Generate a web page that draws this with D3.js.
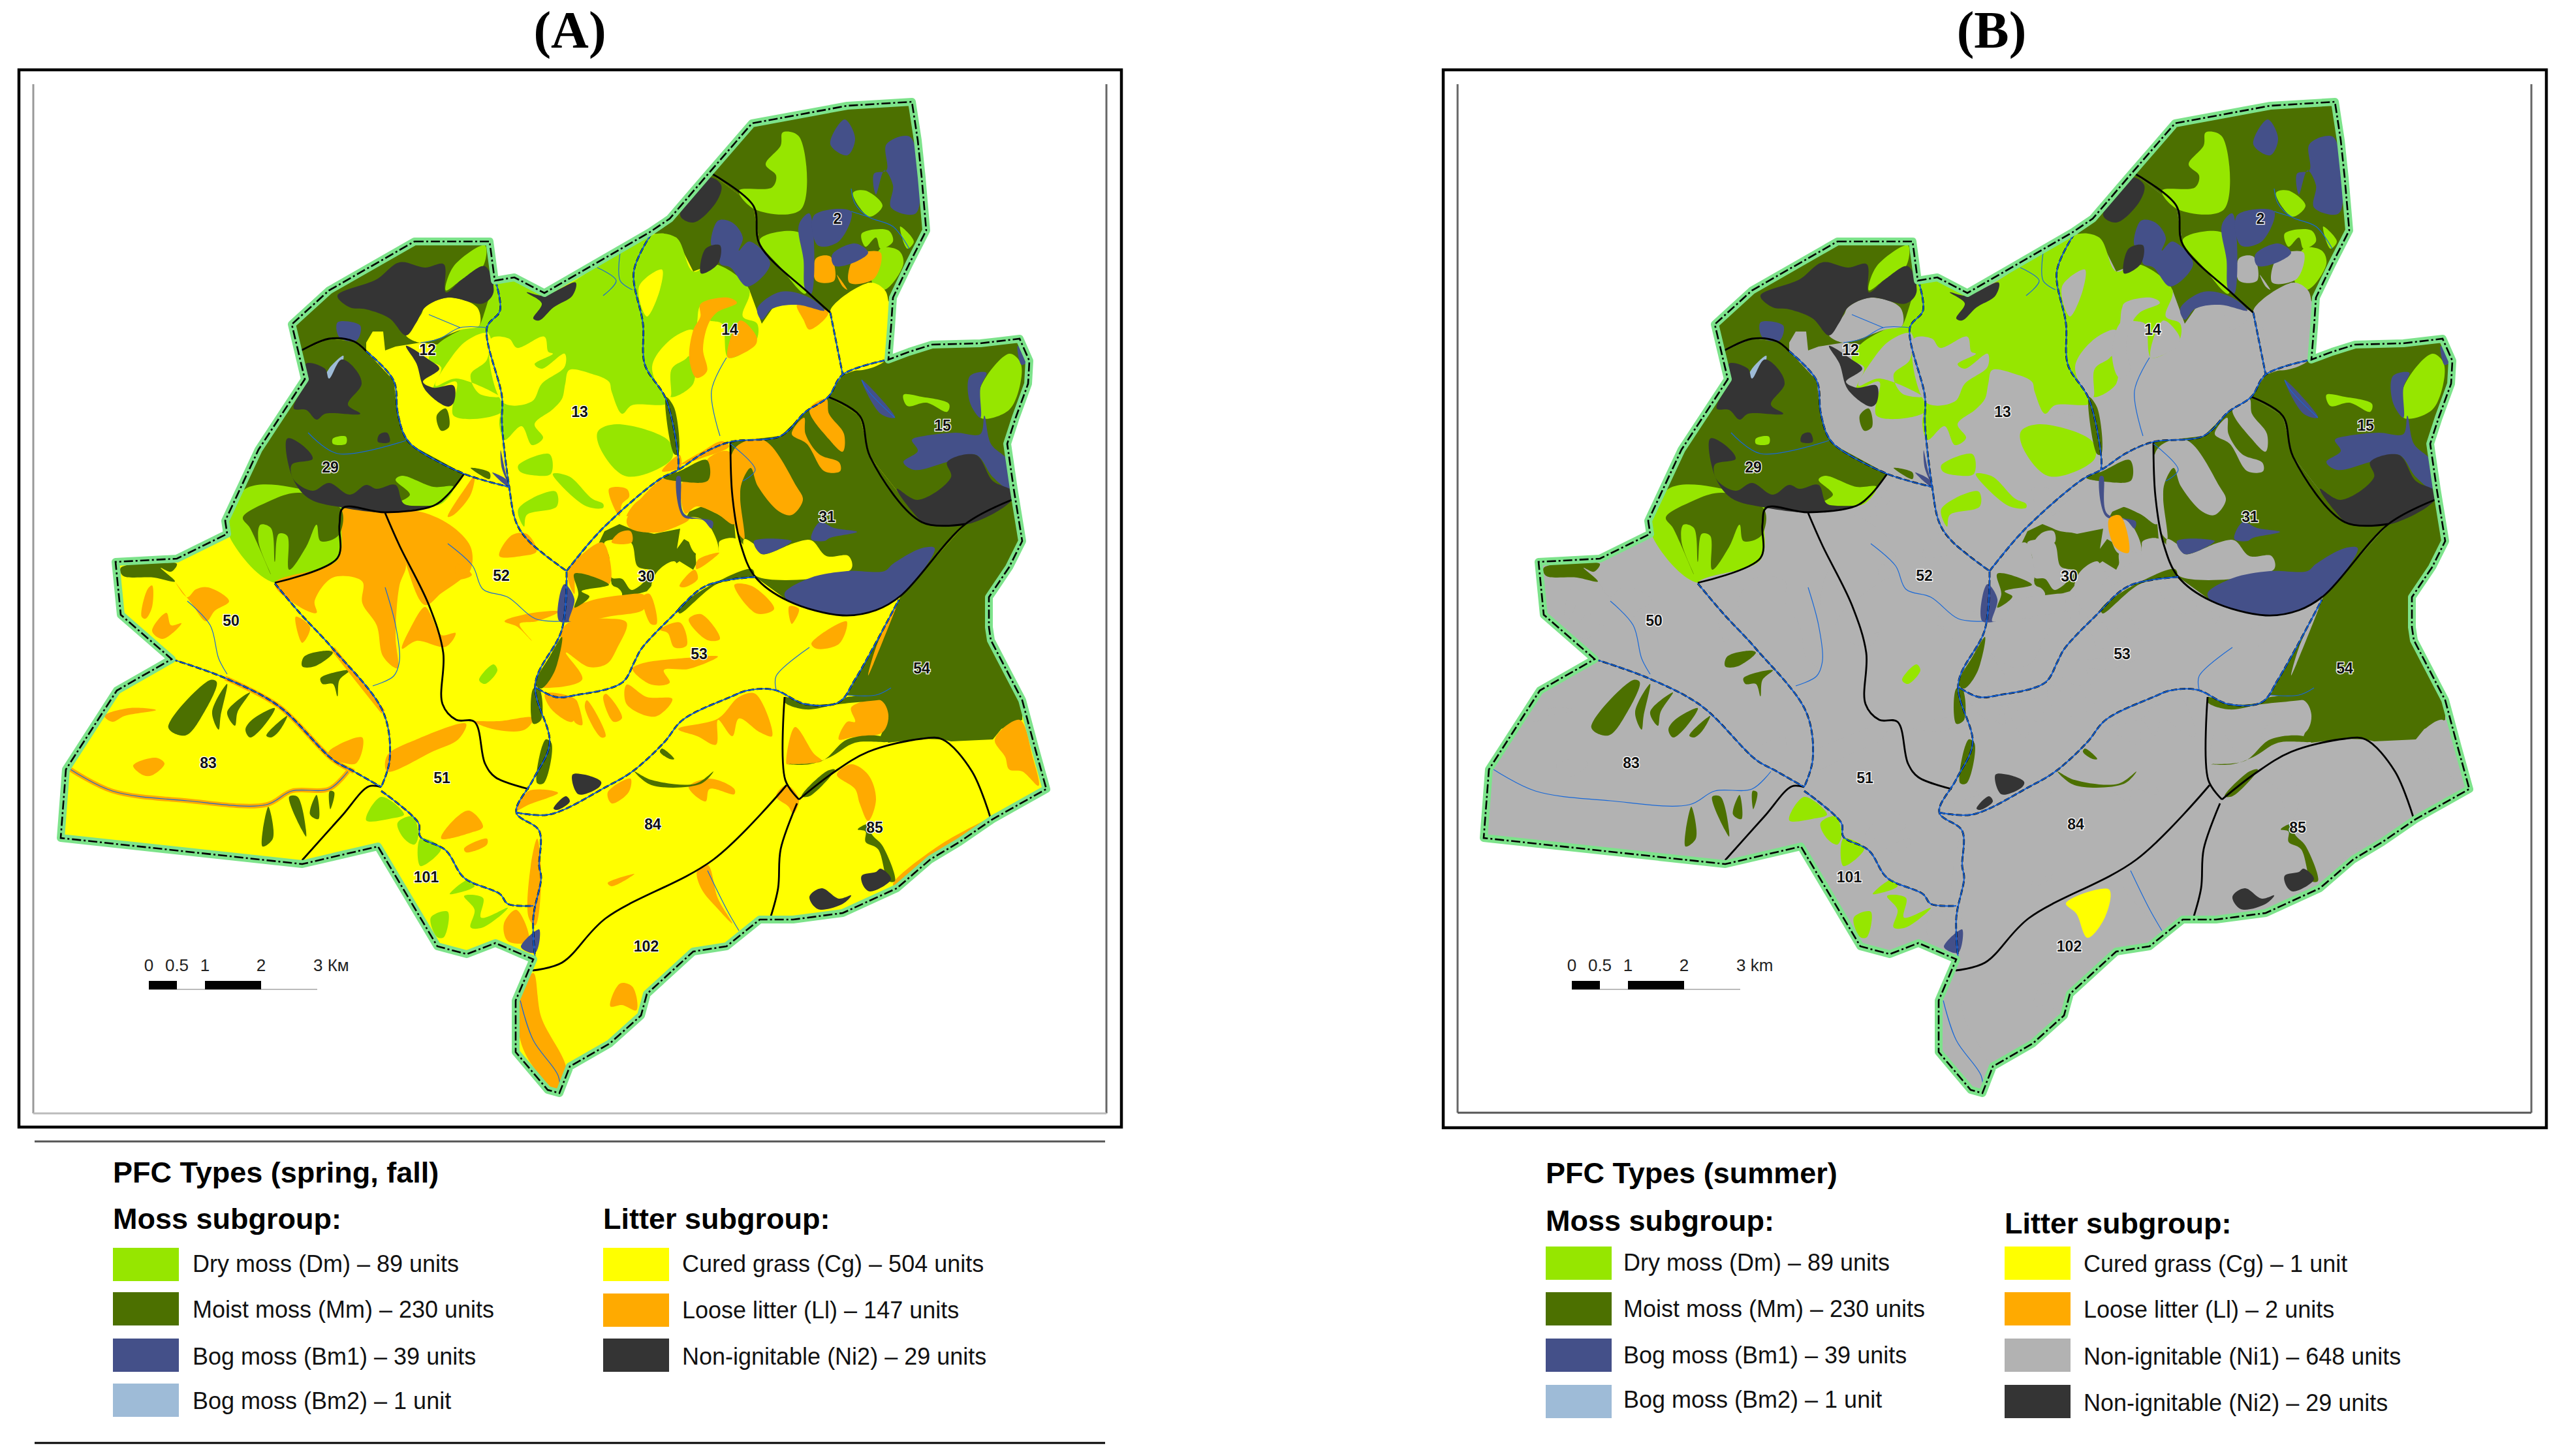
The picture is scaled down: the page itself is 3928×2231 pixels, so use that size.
<!DOCTYPE html>
<html>
<head>
<meta charset="utf-8">
<script src="https://cdn.jsdelivr.net/npm/d3@7"></script>
<style>
  html, body { margin: 0; background: #fff; }
  svg { display: block; }
  text { font-family: "Liberation Sans", Arial, sans-serif; }
</style>
</head>
<body>
<div id="chart"></div>
<script>
// map geometry is in map units, flat x,y lists
const outerBoundary = [635,370, 750,370, 758,430, 788,425, 834,449, 995,356, 1026,335, 1087,264, 1152,189, 1298,162, 1397,156, 1406,215, 1412,272, 1419,353, 1393,404, 1368,456, 1365,502, 1361,551, 1393,539, 1428,528, 1502,526, 1562,519, 1577,553, 1575,588, 1556,640, 1543,680, 1553,749, 1566,829, 1546,869, 1515,915, 1515,961, 1518,981, 1566,1073, 1585,1144, 1603,1209, 1521,1255, 1470,1290, 1425,1317, 1374,1361, 1291,1399, 1215,1409, 1164,1409, 1113,1450, 1062,1458, 991,1523, 982,1556, 934,1599, 873,1634, 857,1675, 839,1670, 790,1612, 790,1533, 817,1470, 759,1445, 715,1462, 670,1450, 579,1297, 463,1324, 93,1284, 101,1179, 179,1058, 263,1010, 185,942, 177,861, 271,856, 348,818, 345,798, 396,689, 467,581, 447,497, 504,445];

const districtLines = [
  [456,540, 504,519, 542,523, 561,538],
  [711,726, 686,758, 664,775, 590,785, 526,778, 520,804, 517,855, 421,893],
  [1087,264, 1154,315, 1164,375, 1240,450, 1272,479],
  [1119,677, 1122,760, 1135,835, 1157,884, 1208,921, 1291,943, 1342,935, 1381,912, 1479,803, 1550,766],
  [1269,608, 1317,637, 1333,700, 1412,800, 1479,803],
  [590,786, 612,836, 657,927, 679,1000, 678,1079, 699,1103, 727,1106, 743,1170, 759,1191, 810,1209],
  [463,1318, 523,1251, 565,1205, 584,1206],
  [1202,1068, 1203,1195, 1224,1225],
  [1205,1203, 1093,1317, 928,1407, 861,1475, 816,1487],
  [1221,1231, 1196,1301, 1192,1361, 1180,1407],
  [1224,1225, 1275,1185, 1330,1152, 1412,1132, 1444,1133, 1489,1182, 1518,1255]
];
const riverLines = [
  [561,538, 603,583, 609,631, 619,666, 632,683, 711,726, 780,746],
  [759,430, 766,476, 746,502, 769,608, 769,649, 780,746, 791,801, 810,829, 868,875],
  [868,875, 921,812, 1011,734, 1039,720, 1078,694, 1119,677, 1196,668, 1234,631, 1269,608, 1291,574, 1361,551],
  [998,358, 971,416, 985,496, 988,559, 1020,611, 1039,700, 1039,720],
  [1272,479, 1291,574],
  [1157,884, 1081,898, 1030,944, 982,995, 972,1014, 953,1046, 883,1065, 851,1068, 819,1052],
  [868,876, 861,964, 820,1048, 842,1139, 817,1194, 791,1245, 826,1273, 826,1327, 829,1345, 817,1406, 820,1470],
  [421,894, 459,939, 510,994, 587,1091, 597,1164, 584,1206],
  [263,1010, 345,1039, 427,1082, 510,1164, 542,1182, 584,1206],
  [584,1212, 641,1261, 644,1282, 683,1303, 711,1345, 766,1370, 778,1385, 817,1388],
  [791,1245, 842,1248, 928,1206, 969,1182, 1017,1138, 1046,1103, 1119,1068, 1145,1058, 1186,1057, 1234,1079, 1285,1076, 1310,1041, 1377,919]
];
const streamLines = [
  [915,410, 944,430, 924,453], [950,387, 950,430, 969,444],
  [1304,289, 1310,312, 1330,332, 1368,347, 1393,381], [1304,324, 1330,332],
  [1113,548, 1090,599, 1103,668], [1320,582, 1330,599, 1371,640], [1119,680, 1157,720, 1138,737],
  [686,833, 724,867, 740,903, 778,915, 820,948, 858,952],
  [590,900, 606,958, 612,1012, 603,1036, 571,1051],
  [287,921, 322,958, 335,1009, 348,1033],
  [108,1179, 172,1212, 287,1227, 408,1233, 447,1212, 504,1209, 533,1182],
  [472,663, 517,695, 622,675], [644,525, 673,519, 705,502, 745,502], [657,482, 705,502],
  [1189,1057, 1189,1036, 1240,992], [1298,1065, 1342,1065, 1365,1054], [1084,1334, 1113,1393, 1132,1426],
  [797,1533, 817,1594, 855,1648, 858,1673]
];
const litterStrips = [
  [108,1179, 172,1212, 287,1227, 408,1233, 447,1212, 504,1209, 533,1182],
  [345,1039, 427,1082, 510,1164, 542,1182],
  [510,994, 587,1091]
];

const moistBase = [
  [350,795, 396,689, 467,581, 456,540, 504,519, 542,523, 561,538, 603,583, 609,631, 619,666, 632,683, 711,726, 686,758, 664,775, 590,785, 526,778, 520,804, 517,855, 421,893, 351,821],
  [456,540, 447,497, 504,445, 635,370, 750,370, 758,430, 766,476, 748,502, 708,505, 670,528, 644,525, 606,531, 590,537, 587,508, 571,508, 561,525, 561,538, 542,523, 504,519],
  [1001,358, 1026,335, 1087,264, 1154,315, 1164,375, 1240,450, 1269,477, 1208,462, 1183,473, 1167,496, 1148,444, 1093,404, 1062,416, 1036,364],
  [1087,264, 1152,189, 1298,162, 1397,156, 1406,215, 1412,272, 1419,353, 1393,404, 1368,456, 1361,462, 1330,433, 1269,479, 1240,450, 1164,375, 1154,315],
  [1291,574, 1361,551, 1393,539, 1428,528, 1502,526, 1562,519, 1577,553, 1575,588, 1556,640, 1543,680, 1553,749, 1550,766, 1479,803, 1412,800, 1333,700, 1317,637, 1269,608],
  [1119,677, 1196,668, 1234,631, 1269,608, 1317,637, 1333,700, 1412,800, 1479,803, 1381,912, 1342,935, 1291,943, 1208,921, 1157,884, 1135,835, 1122,760],
  [1479,803, 1550,766, 1566,829, 1546,869, 1515,915, 1515,961, 1518,981, 1566,1073, 1566,1103, 1534,1117, 1521,1133, 1457,1136, 1444,1133, 1412,1132, 1361,1138, 1349,1128, 1361,1100, 1349,1073, 1298,1065, 1377,919, 1381,912],
  [966,810, 1002,818, 1042,810, 1037,841, 1048,826, 1077,843, 1062,873, 1041,860, 1014,879, 991,906, 956,916, 937,895, 930,852, 916,835, 926,814, 949,803],
  [1056,784, 1075,776, 1098,787, 1125,803, 1127,826, 1102,831, 1100,845, 1079,810, 1050,795],
  [882,433, 903,459, 882,459, 855,488, 830,514, 826,491, 848,471, 877,453]
];
const dryMoss = [
  [759,433, 788,428, 834,451, 995,358, 971,416, 985,496, 988,559, 1020,611, 1020,619, 968,621, 953,634, 937,600, 933,585, 907,573, 872,567, 866,588, 861,611, 847,627, 819,650, 832,671, 815,682, 799,653, 773,674, 765,650, 769,617, 752,519, 746,502, 766,476],
  [916,661, 945,650, 1025,676, 1029,703, 960,730, 920,688],
  [794,713, 842,696, 844,726, 815,728, 796,722], [847,726, 872,730, 907,764, 924,772, 924,778, 899,776, 857,741], [794,780, 851,753, 853,776, 807,789, 803,807],
  [734,499, 759,433, 766,476, 748,502, 766,608, 769,631, 695,637, 699,585, 664,597, 676,563, 657,551, 670,528, 708,505, 730,499],
  [683,445, 695,408, 743,376, 740,408, 708,428],
  [350,795, 376,749, 443,746, 526,781, 520,855, 421,893, 351,821],
  [510,672, 530,669, 530,680, 510,680], [606,735, 616,729, 664,746, 695,746, 676,772, 638,775, 609,772, 628,758],
  [998,361, 1036,364, 1062,416, 1093,404, 1148,444, 1138,485, 1160,496, 1157,525, 1116,548, 1106,496, 1087,490, 1113,459, 1074,467, 1065,505, 1026,548, 1026,605, 1020,608, 988,559, 985,496, 971,416],
  [1027,608, 1029,565, 1060,546, 1062,588],
  [1173,252, 1196,223, 1199,203, 1224,209, 1227,321, 1157,321, 1132,292, 1183,287, 1189,269],
  [1164,367, 1227,358, 1234,450, 1196,410],
  [1307,295, 1326,292, 1352,315, 1333,332, 1317,318], [1320,358, 1361,353, 1368,370, 1349,381, 1342,364, 1326,378],
  [1349,381, 1377,384, 1384,404, 1355,444, 1336,433], [1379,347, 1400,370, 1390,381],
  [1502,594, 1546,542, 1562,553, 1565,576, 1546,628, 1502,640], [1384,605, 1412,608, 1454,619, 1451,631, 1419,617, 1390,622],
  [561,1257, 584,1221, 619,1248, 600,1254], [609,1261, 632,1251, 641,1279, 635,1294, 619,1285], [644,1285, 676,1300, 644,1327],
  [689,1370, 718,1348, 727,1358], [711,1373, 740,1376, 737,1406, 778,1391, 740,1421, 721,1421, 727,1394], [660,1406, 686,1397, 680,1436, 670,1436],
  [734,1042, 756,1018, 762,1027, 743,1048]
];
const curedGrass = [
  [752,519, 780,519, 792,533, 834,516, 840,539, 847,542, 819,558, 830,565, 865,542, 865,562, 830,588, 815,615, 771,617],
  [968,621, 983,634, 1006,640, 1002,648, 979,642],
  [667,591, 689,551, 715,522, 746,511, 746,551, 721,574, 734,603, 766,608, 699,580],
  [624,511, 645,482, 651,471, 686,456, 731,471, 734,499, 708,505, 644,525, 622,514],
  [979,439, 1014,413, 1011,444, 991,485],
  [999,562, 1029,519, 1062,506, 1054,546, 1029,565, 1027,608, 1020,608],
  [1272,476, 1333,433, 1355,444, 1361,462, 1361,548, 1301,565, 1285,496],
  [1140,826, 1159,837, 1167,849, 1220,831, 1243,828, 1266,852, 1300,852, 1304,872, 1159,883, 1142,852],
  [926,831, 966,831, 977,868, 998,875, 968,904, 953,887, 937,885, 933,852],
  [1050,795, 1079,797, 1100,845, 1067,849, 1054,826],
  [1006,877, 1033,860, 1044,875, 1065,872, 1067,847, 1079,845, 1102,845, 1102,830, 1129,826, 1155,872, 1098,891, 1041,929, 1025,950, 998,906],
  [891,904, 945,900, 953,912, 903,921, 880,931]
];
const looseLitter = [
  [1073,466, 1115,456, 1129,464, 1098,479, 1085,497, 1077,535, 1083,569, 1067,579, 1056,550, 1062,506, 1073,485], [1115,548, 1134,491, 1159,516, 1157,529],
  [1221,467, 1269,479, 1240,505, 1231,490],
  [1250,396, 1272,393, 1278,430, 1250,430], [1310,393, 1349,387, 1339,427, 1301,433], [1282,421, 1298,444, 1291,439],
  [1213,665, 1232,640, 1234,665, 1255,696, 1286,709, 1287,722, 1263,722, 1236,680], [1240,627, 1266,611, 1270,634, 1293,665, 1291,692, 1270,673],
  [1125,688, 1169,674, 1220,745, 1230,766, 1213,789, 1194,784, 1161,745, 1150,717, 1136,741, 1134,764, 1140,826, 1125,803],
  [960,797, 1014,734, 1037,730, 1046,787, 1056,795, 1029,810, 1006,816, 966,810], [1046,738, 1085,736, 1083,705, 1117,692, 1125,803, 1098,787, 1067,776, 1050,787],
  [1041,898, 1064,873, 1069,887, 1048,900], [1069,858, 1102,847, 1067,872],
  [937,831, 949,816, 966,814, 968,831], [870,877, 922,831, 933,852, 933,895, 884,879, 880,910],
  [874,935, 903,921, 953,912, 987,912, 987,933, 937,944, 872,952], [868,956, 933,948, 960,954, 945,994, 930,1017, 902,1022, 867,1000, 892,1041, 838,1054, 819,1049, 854,992],
  [985,914, 995,910, 1006,956, 997,956],
  [526,780, 590,786, 612,836, 622,867, 612,897, 606,976, 609,1024, 587,1006, 577,958, 555,924, 555,891, 510,885, 482,921, 485,939, 459,930, 421,894, 517,858, 523,800],
  [590,786, 638,783, 689,804, 721,838, 721,873, 702,891, 676,909, 651,927, 612,836],
  [651,930, 660,942, 676,973, 698,970, 683,991, 638,982, 616,994, 628,964], [765,852, 784,820, 807,818, 822,845, 799,852], [700,864, 723,881, 700,887],
  [453,945, 475,961, 463,985], [686,792, 714,746, 727,729, 721,758, 695,789],
  [933,749, 960,749, 964,761, 953,772, 949,791], [960,791, 972,772, 987,762, 979,780], [1014,722, 1041,697, 1043,715, 1025,722], [1044,711, 1075,692, 1106,676, 1117,684, 1075,702],
  [982,1017, 1052,1008, 1100,1006, 1055,1025, 1017,1027, 1026,1046, 998,1049, 969,1025], [960,1049, 991,1068, 1030,1071, 1004,1098, 960,1079],
  [928,1063, 953,1100, 940,1106, 924,1068], [883,1073, 892,1111, 880,1106], [899,1073, 928,1128, 921,1130, 896,1084], [835,1063, 883,1073, 877,1106, 845,1087],
  [1011,965, 1042,954, 1052,989, 1033,992, 1023,970], [1055,949, 1074,941, 1103,979, 1084,981], [1125,896, 1152,898, 1186,933, 1159,940], [1209,929, 1224,933, 1213,956],
  [1243,986, 1297,952, 1286,986, 1251,994], [1330,1035, 1377,919, 1342,992],
  [1039,1117, 1100,1101, 1132,1068, 1157,1063, 1183,1128, 1164,1122, 1132,1101, 1122,1128, 1100,1103, 1097,1141, 1068,1128],
  [1055,1206, 1087,1193, 1125,1209, 1125,1217, 1087,1209, 1081,1228], [931,1214, 966,1193, 963,1214, 937,1231], [1189,1220, 1205,1203, 1224,1225, 1215,1247, 1208,1236],
  [1068,1334, 1084,1325, 1100,1377, 1122,1415, 1100,1393, 1074,1361], [931,1353, 972,1339, 937,1358], [950,1507, 969,1512, 975,1548, 953,1540, 935,1542],
  [1282,1187, 1304,1171, 1330,1187, 1342,1225, 1330,1258, 1317,1231, 1310,1209],
  [1205,1171, 1218,1114, 1247,1155, 1259,1166, 1208,1171], [1285,1133, 1298,1106, 1310,1106, 1304,1084, 1349,1073, 1361,1095, 1352,1122, 1304,1130],
  [1524,1133, 1562,1103, 1582,1160, 1591,1204, 1566,1182, 1546,1179, 1540,1160], [1368,1355, 1438,1296, 1514,1255, 1444,1301, 1374,1361],
  [817,1491, 829,1558, 868,1639, 858,1673, 842,1664, 801,1606, 794,1533],
  [217,945, 226,903, 233,897, 233,930, 223,948], [233,967, 255,939, 262,958, 278,955, 249,979], [268,891, 287,915, 300,903, 319,900, 351,921, 329,936, 316,952, 293,924],
  [160,1097, 198,1085, 239,1088, 191,1097, 172,1106], [204,1173, 239,1161, 252,1170, 233,1188, 220,1188], [504,1151, 555,1130, 545,1170, 504,1158],
  [593,1158, 638,1133, 714,1109, 702,1133, 664,1151, 593,1182], [727,1106, 765,1105, 817,1100, 804,1118, 759,1118],
  [683,1270, 718,1242, 740,1267, 721,1276, 676,1285], [711,1300, 746,1285, 746,1294, 714,1306], [772,1415, 791,1394, 810,1442, 778,1442],
  [791,1242, 810,1212, 855,1215, 810,1233], [813,1327, 823,1285, 829,1351, 820,1418, 810,1406], [773,952, 811,940, 857,937, 822,952, 796,956, 815,982, 792,960]
];
const moistDetail = [
  [408,770, 459,755, 523,781, 518,821, 491,829, 485,804, 469,838, 443,873, 440,821, 427,818, 421,861, 415,809, 399,804, 396,830, 415,880, 383,809, 372,793],
  [669,637, 683,626, 688,654, 676,660], [721,717, 750,724, 750,734], [1020,608, 1033,625, 1039,696, 1033,696],
  [1016,732, 1041,722, 1083,705, 1085,736, 1044,738], [880,879, 933,896, 891,906, 903,914, 880,931, 886,910],
  [1039,933, 1083,900, 1152,872, 1155,881, 1098,895, 1041,940],
  [972,1182, 998,1195, 1065,1201, 1093,1182, 1074,1201, 998,1203], [1014,1147, 1033,1163, 1026,1163, 1011,1152],
  [1314,1271, 1330,1263, 1336,1279, 1352,1296, 1371,1350, 1361,1350, 1345,1301, 1326,1290, 1326,1274],
  [1208,1171, 1259,1166, 1298,1133, 1349,1128, 1361,1136, 1310,1138, 1272,1160, 1240,1171], [1202,1068, 1234,1079, 1285,1076, 1298,1068, 1355,1071, 1285,1079, 1234,1087, 1202,1076],
  [1228,1220, 1266,1182, 1279,1179, 1240,1220], [1451,1136, 1470,1155, 1496,1193, 1483,1171],
  [185,870, 271,864, 262,876, 246,870, 268,891, 236,885, 188,882],
  [466,1006, 504,997, 510,1000, 482,1021, 463,1021], [491,1039, 536,1027, 520,1042, 517,1067, 510,1048, 494,1048],
  [258,1115, 322,1042, 332,1045, 313,1091, 284,1127], [325,1091, 348,1048, 338,1097, 335,1118], [348,1091, 383,1061, 364,1091, 360,1112],
  [376,1118, 386,1103, 421,1085, 402,1115, 383,1130], [408,1127, 440,1097, 427,1121, 415,1130],
  [402,1297, 411,1236, 418,1285], [443,1221, 469,1282, 456,1221], [475,1248, 485,1218, 488,1255], [505,1212, 512,1214, 506,1240],
  [820,1048, 842,1006, 861,976, 849,1030, 829,1055], [817,1055, 826,1055, 829,1103, 817,1109], [836,1133, 845,1139, 833,1200, 823,1200]
];
const bogMoss1 = [
  [517,494, 552,499, 546,522, 520,517],
  [1090,376, 1100,338, 1122,341, 1138,364, 1132,384, 1148,370, 1180,404, 1145,439, 1119,410, 1103,404, 1103,376],
  [1160,473, 1196,447, 1240,456, 1263,476, 1221,467, 1183,473, 1167,490],
  [1224,344, 1240,327, 1243,450, 1234,444, 1231,398], [1247,330, 1304,324, 1285,370, 1253,376], [1272,221, 1294,183, 1310,212, 1298,238],
  [1358,221, 1393,209, 1406,249, 1403,327, 1365,318, 1368,284, 1355,261, 1342,298, 1339,266, 1358,261],
  [1275,390, 1310,373, 1330,387, 1304,404, 1278,407],
  [1486,576, 1511,571, 1502,594, 1502,640, 1486,617],
  [1384,708, 1406,691, 1397,674, 1416,668, 1464,663, 1502,665, 1508,637, 1518,680, 1546,708, 1546,749, 1521,731, 1495,697, 1451,708, 1400,720],
  [1559,530, 1575,553, 1565,559], [1320,582, 1355,617, 1371,640, 1349,634],
  [1243,826, 1256,800, 1278,809, 1313,815, 1272,824, 1263,829], [1155,829, 1213,829, 1167,849],
  [1202,909, 1240,886, 1298,875, 1355,875, 1368,864, 1412,840, 1432,840, 1384,909, 1342,935, 1291,943, 1208,921],
  [1037,730, 1042,730, 1048,787, 1092,799, 1090,810, 1077,797, 1046,791], [767,690, 775,726, 782,747, 769,718], [754,724, 777,736, 778,745],
  [857,914, 865,895, 880,918, 872,952, 878,952, 857,952], [798,1451, 826,1424, 820,1460]
];
const bogMoss2 = [[504,565, 526,545, 520,568, 507,583, 498,580]];
const nonIgnitable2 = [
  [517,453, 577,428, 612,402, 651,410, 680,405, 683,448, 708,428, 743,408, 756,448, 740,465, 686,456, 651,471, 638,494, 622,514, 597,488, 561,474, 536,471],
  [622,530, 657,551, 673,565, 648,585, 664,594, 695,591, 695,617, 686,623, 651,597, 638,557],
  [469,557, 498,565, 504,580, 523,551, 542,563, 554,588, 533,620, 552,634, 498,634, 485,643, 469,628, 450,626, 469,583],
  [440,672, 463,682, 479,703, 447,712, 450,735, 479,752, 504,740, 536,758, 561,743, 577,749, 606,743, 619,772, 664,775, 590,785, 526,778, 472,763, 447,729],
  [581,666, 593,663, 597,677, 579,677],
  [807,448, 833,453, 882,433, 877,453, 848,471, 826,491, 817,488, 830,465],
  [1042,330, 1087,272, 1105,284, 1097,310, 1062,341], [1081,381, 1103,376, 1100,404, 1074,419],
  [1451,708, 1495,697, 1521,737, 1550,752, 1550,766, 1483,803, 1419,803, 1397,783, 1374,749, 1406,766, 1457,731],
  [877,1187, 896,1187, 921,1198, 918,1206, 886,1217], [848,1239, 867,1220, 873,1228, 854,1241],
  [1320,1342, 1342,1336, 1349,1331, 1365,1347, 1333,1366, 1323,1358], [1240,1374, 1259,1361, 1285,1377, 1304,1372, 1291,1385, 1253,1393]
];
// patches that only exist on the summer map
const summerCured = [[985,1384, 1051,1363, 1045,1405, 1018,1437, 1001,1400]];
const summerLoose = [[1051,795, 1068,790, 1081,847, 1060,838]];

const districtNames = ['12', '13', '29', '14', '2', '15', '31', '30', '52', '50', '83', '51', '101', '53', '54', '84', '85', '102'];
const districtX = [655, 888, 506, 1118, 1283, 1444, 1267, 990, 768, 354, 319, 677, 653, 1071, 1412, 1000, 1340, 990];
const districtY = [535, 630, 715, 504, 334, 651, 791, 882, 881, 950, 1168, 1191, 1343, 1001, 1023, 1262, 1267, 1449];

const scaleKm = [0, 0.5, 1, 2];

const colors = {
  Dm: '#96e600', Mm: '#4c7000', Bm1: '#445089', Bm2: '#9ebbd7',
  Cg: '#ffff00', Ll: '#ffaa00', Ni1: '#b2b2b2', Ni2: '#343434'
};

const springMoss = [['Dm', 'Dry moss (Dm) – 89 units'], ['Mm', 'Moist moss (Mm) – 230 units'], ['Bm1', 'Bog moss (Bm1) – 39 units'], ['Bm2', 'Bog moss (Bm2) – 1 unit']];
const springLitter = [['Cg', 'Cured grass (Cg) – 504 units'], ['Ll', 'Loose litter (Ll) – 147 units'], ['Ni2', 'Non-ignitable (Ni2) – 29 units']];
const summerLitter = [['Cg', 'Cured grass (Cg) – 1 unit'], ['Ll', 'Loose litter (Ll) – 2 units'], ['Ni1', 'Non-ignitable (Ni1) – 648 units'], ['Ni2', 'Non-ignitable (Ni2) – 29 units']];

const width = 3928;
const height = 2231;
const svg = d3.select('#chart').append('svg').attr('width', width).attr('height', height);

function toPoints(list) {
  const points = [];
  for (let i = 0; i < list.length; i += 2) {
    points.push([list[i], list[i + 1]]);
  }
  return points;
}

function drawMap(group, offset, groundKey, scaleUnit) {
  const x = d3.scaleLinear().domain([0, width]).range([offset, width + offset]);
  const y = d3.scaleLinear().domain([0, height]).range([0, height]);
  const line = d3.line().x(d => x(d[0])).y(d => y(d[1]));
  const smoothLine = d3.line().x(d => x(d[0])).y(d => y(d[1])).curve(d3.curveCatmullRom.alpha(0.5));
  const blob = d3.line().x(d => x(d[0])).y(d => y(d[1])).curve(d3.curveCatmullRomClosed.alpha(0.5));
  const area = list => line(toPoints(list)) + 'Z';
  const isSpring = groundKey === 'Cg';
  const clipId = 'clip-' + groundKey;

  group.append('clipPath').attr('id', clipId).append('path').attr('d', area(outerBoundary));
  const fills = group.append('g').attr('clip-path', 'url(#' + clipId + ')');

  const fillLayer = (patches, key, shape) => fills.append('g').selectAll('path')
    .data(patches).join('path')
    .attr('d', shape)
    .attr('fill', colors[key]);
  const patch = list => blob(toPoints(list));

  const strokeLayer = (paths, color, size, dash) => group.append('g').selectAll('path')
    .data(paths).join('path')
    .attr('d', d => smoothLine(toPoints(d)))
    .attr('fill', 'none')
    .attr('stroke', color)
    .attr('stroke-width', size)
    .attr('stroke-linejoin', 'round')
    .attr('stroke-dasharray', dash || null);

  fills.append('path').attr('d', area(outerBoundary)).attr('fill', colors[groundKey]);

  fillLayer(moistBase, 'Mm', area);
  fillLayer(dryMoss, 'Dm', patch);
  fillLayer(curedGrass, groundKey, patch);
  fillLayer(looseLitter, isSpring ? 'Ll' : groundKey, patch);
  if (isSpring) {
    strokeLayer(litterStrips, colors.Ll, 7);
  }
  fillLayer(moistDetail, 'Mm', patch);
  fillLayer(bogMoss1, 'Bm1', patch);
  fillLayer(bogMoss2, 'Bm2', patch);
  fillLayer(nonIgnitable2, 'Ni2', patch);
  if (!isSpring) {
    fillLayer(summerCured, 'Cg', patch);
    fillLayer(summerLoose, 'Ll', patch);
  }

  strokeLayer(districtLines, '#000', 2.8);
  strokeLayer(riverLines, '#000', 2.8, '9 4');
  strokeLayer(riverLines, '#1060d8', 1.8);
  strokeLayer(streamLines, '#1868d8', 1.2);

  // light green halo centred on the boundary, dash-dot line on top
  group.append('path').attr('d', area(outerBoundary)).attr('fill', 'none')
    .attr('stroke', '#7de38b').attr('stroke-width', 12).attr('stroke-linejoin', 'round');
  group.append('path').attr('d', area(outerBoundary)).attr('fill', 'none')
    .attr('stroke', '#000').attr('stroke-width', 2.6).attr('stroke-dasharray', '14 4 3 4');

  group.append('g').selectAll('text')
    .data(districtNames).join('text')
    .attr('x', (d, i) => x(districtX[i]))
    .attr('y', (d, i) => y(districtY[i]) + 9)
    .attr('text-anchor', 'middle')
    .attr('font-size', 23)
    .attr('font-weight', 700)
    .attr('fill', '#111')
    .attr('stroke', '#fff')
    .attr('stroke-width', 2.5)
    .attr('paint-order', 'stroke')
    .text(d => d);

  // scale bar
  const km = d3.scaleLinear().domain([0, 3]).range([x(228), x(486)]);
  const barTop = 1503;
  const barHeight = 13;
  group.append('line').attr('x1', km(0)).attr('x2', km(3))
    .attr('y1', barTop + barHeight).attr('y2', barTop + barHeight)
    .attr('stroke', '#bbb').attr('stroke-width', 2);
  group.selectAll('rect.bar').data([[0, 0.5], [1, 2]]).join('rect')
    .attr('class', 'bar')
    .attr('x', d => km(d[0]))
    .attr('width', d => km(d[1]) - km(d[0]))
    .attr('y', barTop)
    .attr('height', barHeight)
    .attr('fill', '#000');
  group.selectAll('text.km').data(scaleKm).join('text')
    .attr('class', 'km')
    .attr('x', d => km(d))
    .attr('y', 1488)
    .attr('text-anchor', 'middle')
    .attr('font-size', 26)
    .attr('fill', '#222')
    .text(d => d);
  group.append('text').attr('x', km(3) - 6).attr('y', 1488)
    .attr('font-size', 26).attr('fill', '#222').text('3 ' + scaleUnit);
}

function drawFrame(group, box, inner, innerColors) {
  group.append('rect')
    .attr('x', box.x).attr('y', box.y).attr('width', box.w).attr('height', box.h)
    .attr('fill', '#fff').attr('stroke', '#000').attr('stroke-width', 4.5);
  // the inner neatline has no top edge
  const edges = [
    [inner.x, inner.y, inner.x, inner.b, innerColors[0]],
    [inner.r, inner.y, inner.r, inner.b, innerColors[1]],
    [inner.x, inner.b, inner.r, inner.b, innerColors[2]]
  ];
  group.selectAll('line.neat').data(edges).join('line')
    .attr('class', 'neat')
    .attr('x1', d => d[0]).attr('y1', d => d[1]).attr('x2', d => d[2]).attr('y2', d => d[3])
    .attr('stroke', d => d[4]).attr('stroke-width', 3);
}

function drawLegendColumn(group, entries, head, layout) {
  group.append('text').attr('x', layout.x).attr('y', layout.headY)
    .attr('font-size', 45).attr('font-weight', 700).attr('fill', '#000').text(head);
  const rows = group.append('g').selectAll('g').data(entries).join('g');
  rows.append('rect')
    .attr('x', layout.x)
    .attr('y', (d, i) => layout.top[i])
    .attr('width', 101)
    .attr('height', 51)
    .attr('fill', d => colors[d[0]]);
  rows.append('text')
    .attr('x', layout.textX)
    .attr('y', (d, i) => layout.base[i])
    .attr('font-size', 36)
    .attr('fill', '#111')
    .text(d => d[1]);
}

const panelA = svg.append('g');
const panelB = svg.append('g');

panelA.append('text').attr('x', 873).attr('y', 73).attr('text-anchor', 'middle')
  .style('font-family', '"Liberation Serif", serif').attr('font-size', 80).attr('font-weight', 700).text('(A)');
panelB.append('text').attr('x', 3051).attr('y', 73).attr('text-anchor', 'middle')
  .style('font-family', '"Liberation Serif", serif').attr('font-size', 80).attr('font-weight', 700).text('(B)');

drawFrame(panelA, {x: 29, y: 107, w: 1689, h: 1620}, {x: 51, y: 129, r: 1695, b: 1706}, ['#999', '#666', '#bbb']);
drawFrame(panelB, {x: 2211, y: 107, w: 1690, h: 1621}, {x: 2233, y: 129, r: 3878, b: 1705}, ['#666', '#666', '#555']);

drawMap(panelA, 0, 'Cg', 'Км');
drawMap(panelB, 2180, 'Ni1', 'km');

// rules around the first legend
panelA.selectAll('line.rule').data([[1749, '#555'], [2211, '#000']]).join('line')
  .attr('class', 'rule')
  .attr('x1', 53).attr('x2', 1693)
  .attr('y1', d => d[0]).attr('y2', d => d[0])
  .attr('stroke', d => d[1]).attr('stroke-width', 3);

panelA.append('text').attr('x', 173).attr('y', 1812)
  .attr('font-size', 45).attr('font-weight', 700).attr('fill', '#000').text('PFC Types (spring, fall)');
panelB.append('text').attr('x', 2368).attr('y', 1813)
  .attr('font-size', 45).attr('font-weight', 700).attr('fill', '#000').text('PFC Types (summer)');

drawLegendColumn(panelA, springMoss, 'Moss subgroup:', {x: 173, headY: 1883, textX: 295, top: [1912, 1980, 2051, 2120], base: [1949, 2019, 2091, 2159]});
drawLegendColumn(panelA, springLitter, 'Litter subgroup:', {x: 924, headY: 1883, textX: 1045, top: [1912, 1982, 2051], base: [1949, 2020, 2091]});
drawLegendColumn(panelB, springMoss, 'Moss subgroup:', {x: 2368, headY: 1886, textX: 2487, top: [1910, 1980, 2051, 2122], base: [1947, 2018, 2089, 2157]});
drawLegendColumn(panelB, summerLitter, 'Litter subgroup:', {x: 3071, headY: 1890, textX: 3192, top: [1910, 1980, 2051, 2122], base: [1949, 2019, 2091, 2162]});
</script>
</body>
</html>
